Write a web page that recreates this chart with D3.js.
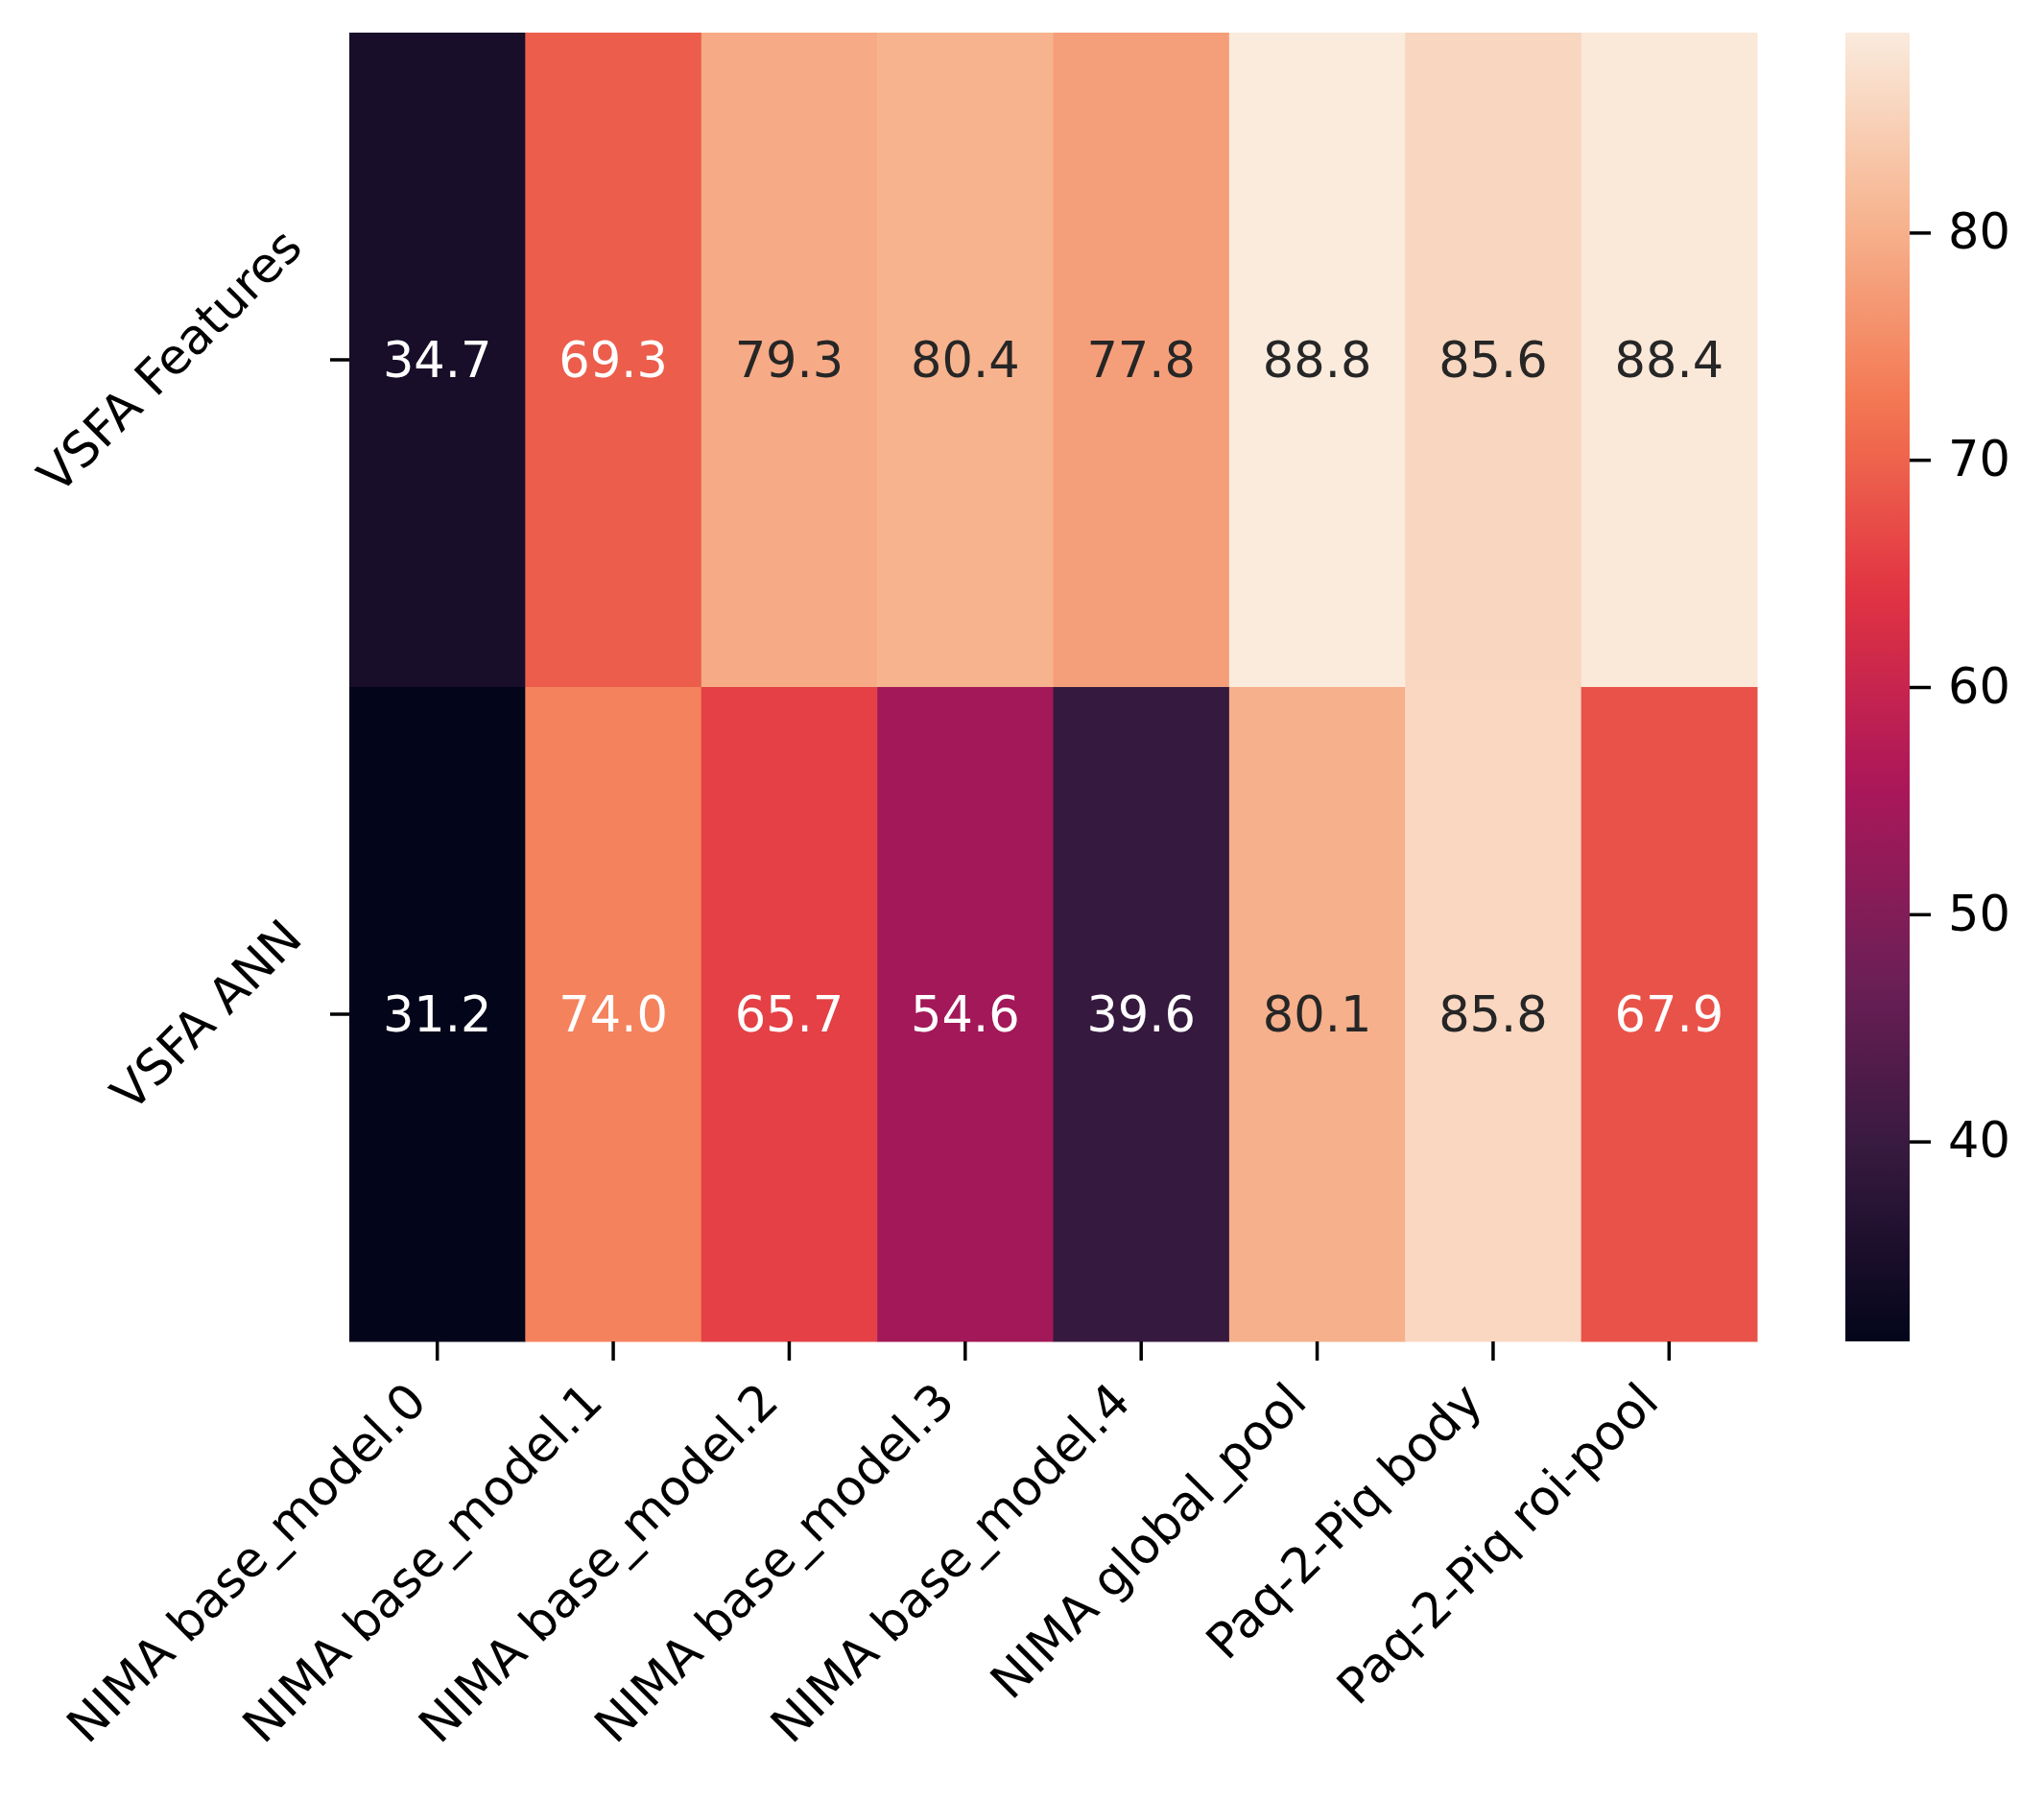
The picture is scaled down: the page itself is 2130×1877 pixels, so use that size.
<!DOCTYPE html>
<html>
<head>
<meta charset="utf-8">
<script src="https://cdn.jsdelivr.net/npm/d3@7"></script>
<style>
  body { margin: 0; background: #fff; }
  text { font-family: "DejaVu Sans", sans-serif; }
</style>
</head>
<body>
<svg id="chart" width="2130" height="1877"></svg>
<script>
//Row and column names of the heatmap
let rowLabels = ["VSFA Features", "VSFA ANN"];
let colLabels = ["NIMA base_model.0", "NIMA base_model.1", "NIMA base_model.2", "NIMA base_model.3",
  "NIMA base_model.4", "NIMA global_pool", "Paq-2-Piq body", "Paq-2-Piq roi-pool"];
//Values of each row
let featureValues = [34.7, 69.3, 79.3, 80.4, 77.8, 88.8, 85.6, 88.4];
let annValues = [31.2, 74.0, 65.7, 54.6, 39.6, 80.1, 85.8, 67.9];
//Colour bar ticks
let barTicks = [40, 50, 60, 70, 80];

//seaborn "rocket" colour map, evenly spaced stops
let rocket = ["#03051a", "#35193e", "#701f57", "#ad1759", "#e13342", "#f37651", "#f6b48f", "#faebdd"];

//Layout
let margin = { top: 34, left: 364 };
let width = 1467, height = 1364;
let fontSize = 51, tickLen = 20, tickPad = 18;
let asc = 0.76 * fontSize, desc = 0.24 * fontSize;
let r2 = Math.SQRT2;

let rows = [featureValues, annValues];
let cells = [];
rowLabels.forEach(function (r, i) {
  colLabels.forEach(function (c, j) {
    cells.push({ row: r, col: c, value: rows[i][j] });
  });
});

let allValues = featureValues.concat(annValues);
let vmin = d3.min(allValues), vmax = d3.max(allValues);
let color = d3.scaleSequential(d3.piecewise(d3.interpolateRgb, rocket)).domain([vmin, vmax]);

let svg = d3.select("#chart");
let g = svg.append("g").attr("transform", "translate(" + margin.left + "," + margin.top + ")");

let x = d3.scaleBand().domain(colLabels).range([0, width]);
let y = d3.scaleBand().domain(rowLabels).range([0, height]);

//cells
g.selectAll(".cell")
  .data(cells)
  .enter().append("rect")
  .attr("class", "cell")
  .attr("x", function (d) { return x(d.col); })
  .attr("y", function (d) { return y(d.row); })
  .attr("width", x.bandwidth() + 0.5)
  .attr("height", y.bandwidth() + 0.5)
  .attr("fill", function (d) { return color(d.value); });

//relative luminance, like seaborn uses to pick the annotation colour
function luminance(c) {
  let rgb = d3.rgb(c);
  let lin = [rgb.r, rgb.g, rgb.b].map(function (v) {
    v = v / 255;
    return v <= 0.03928 ? v / 12.92 : Math.pow((v + 0.055) / 1.055, 2.4);
  });
  return 0.2126 * lin[0] + 0.7152 * lin[1] + 0.0722 * lin[2];
}

//annotations
g.selectAll(".annot")
  .data(cells)
  .enter().append("text")
  .attr("class", "annot")
  .attr("x", function (d) { return x(d.col) + x.bandwidth() / 2; })
  .attr("y", function (d) { return y(d.row) + y.bandwidth() / 2; })
  .attr("text-anchor", "middle")
  .attr("dominant-baseline", "central")
  .attr("font-size", fontSize)
  .attr("fill", function (d) { return luminance(color(d.value)) > 0.408 ? "#262626" : "#ffffff"; })
  .text(function (d) { return d.value.toFixed(1); });

//x axis
let xAxis = g.append("g")
  .attr("transform", "translate(0," + height + ")")
  .call(d3.axisBottom(x).tickSize(tickLen).tickSizeOuter(0));
xAxis.select(".domain").remove();
xAxis.selectAll("line").attr("stroke", "#000").attr("stroke-width", 3.5);
xAxis.selectAll("text")
  .attr("font-size", fontSize)
  .attr("font-family", "DejaVu Sans")
  .attr("fill", "#000")
  .attr("text-anchor", "end")
  .attr("x", 0).attr("y", 0).attr("dy", null)
  .attr("transform", "translate(" + (-desc / r2) + "," + (tickLen + tickPad + asc / r2) + ") rotate(-45)");

//y axis
let yAxis = g.append("g")
  .call(d3.axisLeft(y).tickSize(tickLen).tickSizeOuter(0));
yAxis.select(".domain").remove();
yAxis.selectAll("line").attr("stroke", "#000").attr("stroke-width", 3.5);
yAxis.selectAll("text")
  .attr("font-size", fontSize)
  .attr("font-family", "DejaVu Sans")
  .attr("fill", "#000")
  .attr("text-anchor", "end")
  .attr("x", 0).attr("y", 0).attr("dy", null)
  .attr("transform", function () {
    //centre the rotated box on the tick
    let len = this.getComputedTextLength();
    let bx = -tickLen - tickPad - desc / r2;
    let by = 4 - (len + desc - asc) / (2 * r2);
    return "translate(" + bx + "," + by + ") rotate(-45)";
  });

//colour bar
let barX = 1923, barW = 67;
let cy = d3.scaleLinear().domain([vmin, vmax]).range([margin.top + height, margin.top]);

let defs = svg.append("defs");
let grad = defs.append("linearGradient").attr("id", "rocketGrad")
  .attr("x1", 0).attr("y1", 1).attr("x2", 0).attr("y2", 0);
grad.selectAll("stop")
  .data(d3.range(0, 1.0001, 0.02))
  .enter().append("stop")
  .attr("offset", function (d) { return d; })
  .attr("stop-color", function (d) { return color(vmin + d * (vmax - vmin)); });

svg.append("rect")
  .attr("x", barX)
  .attr("y", margin.top)
  .attr("width", barW)
  .attr("height", height)
  .attr("fill", "url(#rocketGrad)");

let cAxis = svg.append("g")
  .attr("transform", "translate(" + (barX + barW) + ",0)")
  .call(d3.axisRight(cy).tickValues(barTicks).tickSize(22).tickPadding(18).tickFormat(d3.format("d")));
cAxis.select(".domain").remove();
cAxis.selectAll("line").attr("stroke", "#000").attr("stroke-width", 3.5);
cAxis.selectAll("text")
  .attr("font-size", fontSize)
  .attr("font-family", "DejaVu Sans")
  .attr("fill", "#000");
</script>
</body>
</html>
